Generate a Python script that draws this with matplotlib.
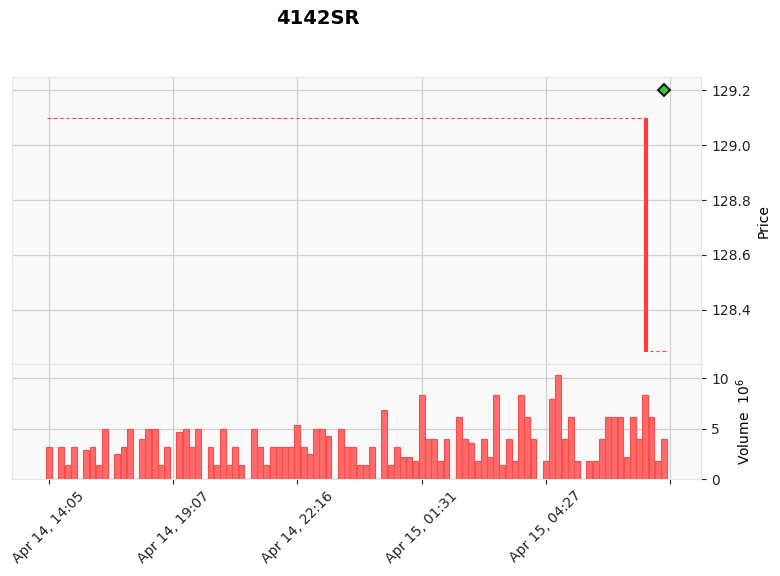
import matplotlib
matplotlib.use("Agg")
import matplotlib.pyplot as plt
import numpy as np

title = "4142SR"

# volume per bar, in units of 10^6
volume = [3.2, 0, 3.2, 1.4, 3.2, 0, 2.9, 3.2, 1.4, 5.0,
          0, 2.5, 3.2, 5.0, 0, 4.0, 5.0, 5.0, 1.4, 3.2,
          0, 4.7, 5.0, 3.2, 5.0, 0, 3.2, 1.4, 5.0, 1.4,
          3.2, 1.4, 0, 5.0, 3.2, 1.4, 3.2, 3.2, 3.2, 3.2,
          5.4, 3.2, 2.5, 5.0, 5.0, 4.3, 0, 5.0, 3.2, 3.2,
          1.4, 1.4, 3.2, 0, 6.8, 1.4, 3.2, 2.2, 2.2, 1.8,
          8.3, 4.0, 4.0, 1.8, 4.0, 0, 6.1, 4.0, 3.6, 1.8,
          4.0, 2.2, 8.3, 1.4, 4.0, 1.8, 8.3, 6.1, 4.0, 0,
          1.8, 7.9, 10.3, 4.0, 6.1, 1.8, 0, 1.8, 1.8, 4.0,
          6.1, 6.1, 6.1, 2.2, 6.1, 4.0, 8.3, 6.1, 1.8, 4.0]

# candle open / close (all flat except the drop at bar 96)
opens = [129.1] * 97 + [128.25] * 3
closes = [129.1] * 96 + [128.25] * 4

marker_idx = 99
marker_price = 129.2

tick_pos = [0, 20, 40, 60, 80, 100]
tick_labels = ["Apr 14, 14:05", "Apr 14, 19:07", "Apr 14, 22:16",
               "Apr 15, 01:31", "Apr 15, 04:27", ""]

x = np.arange(len(volume))
o = np.array(opens)
c = np.array(closes)

fig = plt.figure(figsize=(7.8, 5.76), dpi=100)
ax_p = fig.add_axes([0.015, 0.368, 0.884, 0.498])
ax_v = fig.add_axes([0.015, 0.1684, 0.884, 0.1997], sharex=ax_p)

for ax in (ax_p, ax_v):
    ax.set_facecolor("#fafafa")
    ax.grid(True, color="#d0d0d0", linewidth=0.9)
    ax.set_axisbelow(True)
    for s in ax.spines.values():
        s.set_color("#e6e6e6")
    ax.yaxis.tick_right()
    ax.yaxis.set_label_position("right")
    ax.tick_params(labelsize=10, colors="#222222", length=3.5)

# candles
lo = np.minimum(o, c)
hi = np.maximum(o, c)
ax_p.bar(x, hi - lo, bottom=lo, width=0.55, color="#ff3b3b",
         edgecolor="#ff3b3b", linewidth=0.8)
ax_p.plot([marker_idx], [marker_price], marker="D", color="#33cc33",
          markeredgecolor="black", markeredgewidth=1.3, markersize=6.5,
          linestyle="none")

ax_p.set_ylim(128.2025, 129.2475)
ax_p.set_yticks([128.4, 128.6, 128.8, 129.0, 129.2])
ax_p.set_ylabel("Price", fontsize=10)
ax_p.tick_params(axis="x", labelbottom=False, length=0)

# volume
ax_v.bar(x, volume, width=0.95, color="#ff6b6b", edgecolor="#ff4a4a",
         linewidth=0.8)
ax_v.set_ylim(0, 11.4)
ax_v.set_yticks([0, 5, 10])
ax_v.set_ylabel("Volume  $10^{6}$", fontsize=10)

ax_v.set_xlim(-6, 105)
ax_v.set_xticks(tick_pos)
ax_v.set_xticklabels(tick_labels, rotation=45, ha="center")

fig.suptitle(title, fontsize=14, fontweight="bold", x=0.408, y=0.985)

fig.savefig("out.png", dpi=100)
